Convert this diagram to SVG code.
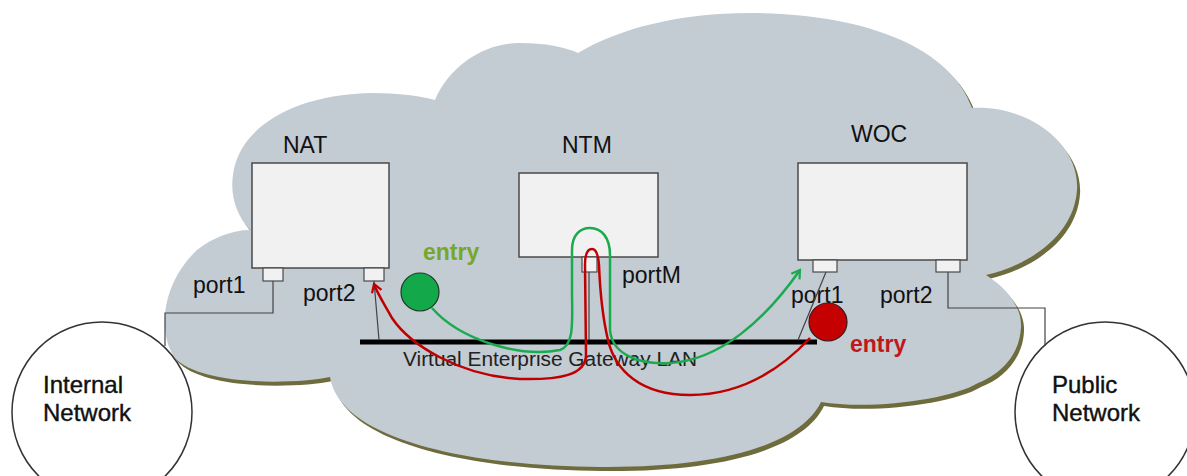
<svg xmlns="http://www.w3.org/2000/svg" width="1187" height="476" viewBox="0 0 1187 476">
<defs>
<style>
.lbl{font-family:"Liberation Sans",Arial,sans-serif;font-size:23px;fill:#111}
.net{font-family:"Liberation Sans",Arial,sans-serif;font-size:24px;fill:#111;stroke:#111;stroke-width:0.4}
.box{fill:#f1f1f1;stroke:#4a4a4a;stroke-width:1.5}
.port{fill:#f1f1f1;stroke:#4a4a4a;stroke-width:1.2}
.wire{fill:none;stroke:#444;stroke-width:1.2}
.entry{font-family:"Liberation Sans",Arial,sans-serif;font-size:23px;font-weight:bold}
</style>
<path id="cloudShape" d="M250,230 C236,215 230,195 233,175 C238,130 290,95 370,93 C400,93 420,96 435,100 C450,65 485,43 520,43 C545,43 565,47 578,53 C620,28 680,13 750,13 C860,13 950,45 972,108 C1030,105 1080,145 1077,190 C1074,235 1030,265 986,275 C1010,290 1022,310 1021,327 C1020,355 1000,375 978,383 C950,400 870,410 821,402 C800,445 720,468 600,467 C470,466 340,440 330,377 C290,385 200,385 175,358 C158,335 160,285 197,250 C212,238 232,230 250,230 Z"/>
<marker id="arrG" viewBox="0 0 12 12" refX="10" refY="6" markerWidth="12" markerHeight="12" markerUnits="userSpaceOnUse" orient="auto">
<path d="M2,1 L10,6 L2,11" fill="none" stroke="#1aab4f" stroke-width="2.2"/>
</marker>
<marker id="arrR" viewBox="0 0 12 12" refX="10" refY="6" markerWidth="12" markerHeight="12" markerUnits="userSpaceOnUse" orient="auto">
<path d="M2,1 L10,6 L2,11" fill="none" stroke="#c00000" stroke-width="2.2"/>
</marker>
</defs>

<g id="cloud">
<use href="#cloudShape" transform="translate(3,4)" fill="#6e6c3c"/>
<use href="#cloudShape" fill="#c3cbd3"/>
</g>

<g id="internal-network">
<circle cx="102" cy="412" r="90" fill="#fff" stroke="#333" stroke-width="1.5"/>
<text class="net" x="43" y="393">Internal</text>
<text class="net" x="43" y="421">Network</text>
</g>

<g id="public-network">
<circle cx="1105" cy="412" r="90" fill="#fff" stroke="#333" stroke-width="1.5"/>
<text class="net" x="1052" y="393">Public</text>
<text class="net" x="1052" y="421">Network</text>
</g>

<g id="nat">
<text class="lbl" x="283" y="153">NAT</text>
<rect class="box" x="252" y="163" width="137" height="105"/>
<rect class="port" x="263" y="268" width="20" height="13"/>
<rect class="port" x="364" y="268" width="20" height="13"/>
<text class="lbl" x="193" y="293">port1</text>
<text class="lbl" x="303" y="301">port2</text>
</g>

<g id="ntm">
<text class="lbl" x="562" y="153">NTM</text>
<rect class="box" x="519" y="173" width="139" height="84"/>
<rect class="port" x="582" y="257" width="15" height="15"/>
<text class="lbl" x="622" y="283">portM</text>
</g>

<g id="woc">
<text class="lbl" x="851" y="142">WOC</text>
<rect class="box" x="798" y="163" width="169" height="97"/>
<rect class="port" x="813" y="260" width="24" height="12"/>
<rect class="port" x="936" y="260" width="24" height="12"/>
<text class="lbl" x="791" y="303">port1</text>
<text class="lbl" x="880" y="303">port2</text>
</g>

<g id="lan">
<line x1="360" y1="342" x2="817" y2="342" stroke="#000" stroke-width="5"/>
<text x="403" y="366" font-family="Liberation Sans, Arial, sans-serif" font-size="20" fill="#222" textLength="294" lengthAdjust="spacingAndGlyphs">Virtual Enterprise Gateway LAN</text>
</g>

<g id="connectors">
<polyline class="wire" points="273,281 273,313 165,313 165,346"/>
<polyline class="wire" points="948,272 948,308 1045,308 1045,346"/>
<line class="wire" x1="379" y1="340" x2="374" y2="281"/>
<line class="wire" x1="589" y1="272" x2="589" y2="340" stroke="#666"/>
<line class="wire" x1="826" y1="272" x2="798" y2="340"/>
<path d="M432,308 C460,340 520,358 560,350 C575,345 572,320 572,290 L572,250 C572,235 580,228 590,228 C602,228 610,238 610,255 L610,330 C612,355 640,365 670,363 C720,360 765,320 800,270" fill="none" stroke="#1aab4f" stroke-width="2.5" marker-end="url(#arrG)"/>
<path d="M810,338 C780,370 740,395 690,395 C640,395 615,370 608,340 C602,315 600,290 599,265 C598,252 595,249 592,249 C588,249 585,254 585,265 L586,355 C586,375 560,380 520,379 C460,376 410,345 392,318 C385,305 378,295 374,284" fill="none" stroke="#c00000" stroke-width="2.5" marker-end="url(#arrR)"/>
</g>

<g id="entry-green">
<circle cx="420" cy="292" r="19" fill="#13a84a" stroke="#1e3a22" stroke-width="1.2"/>
<text class="entry" x="423" y="260" fill="#76a72a">entry</text>
</g>

<g id="entry-red">
<circle cx="828" cy="322" r="19" fill="#c40000" stroke="#3a1a1a" stroke-width="1.2"/>
<text class="entry" x="850" y="352" fill="#c0181a">entry</text>
</g>
</svg>
